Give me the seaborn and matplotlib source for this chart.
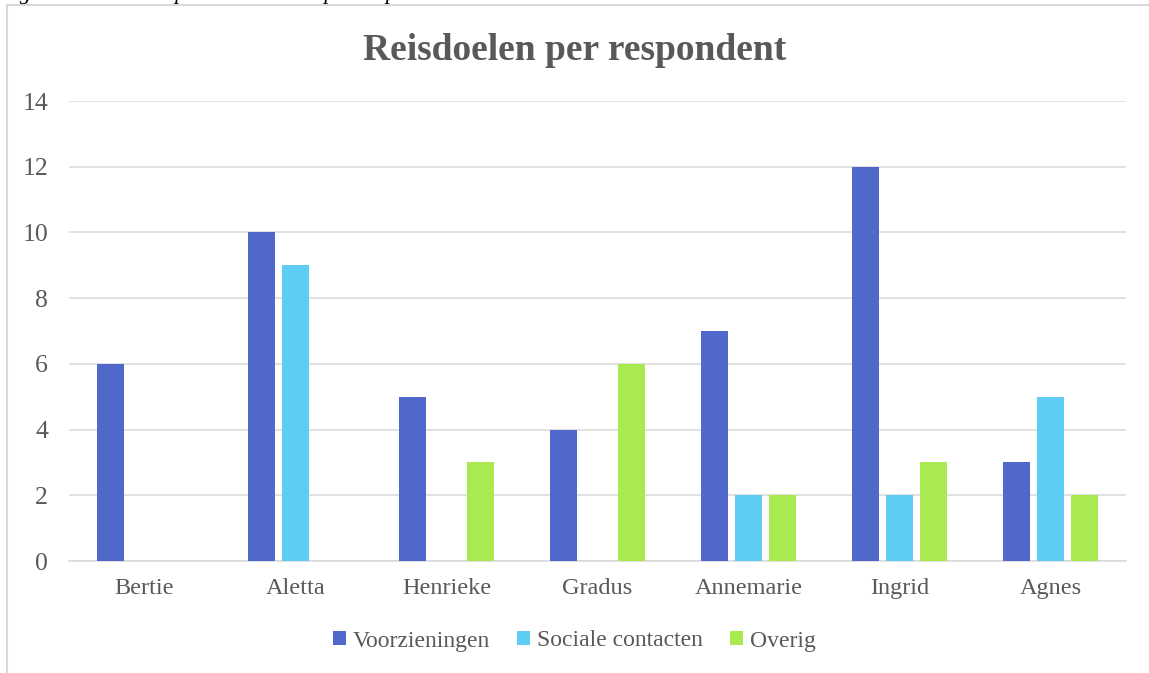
import matplotlib
matplotlib.use("Agg")
import matplotlib.pyplot as plt
import seaborn as sns
import pandas as pd
from matplotlib.patches import Rectangle

respondents = ["Bertie", "Aletta", "Henrieke", "Gradus", "Annemarie", "Ingrid", "Agnes"]
series_names = ["Voorzieningen", "Sociale contacten", "Overig"]
voorzieningen = [6, 10, 5, 4, 7, 12, 3]
sociale_contacten = [0, 9, 0, 0, 2, 2, 5]
overig = [0, 0, 3, 6, 2, 3, 2]
y_ticks = [0, 2, 4, 6, 8, 10, 12, 14]
title = "Reisdoelen per respondent"
caption = "Figuur 4. Aantal trips en reisdoelen per respondent"

colors = ["#4F68C9", "#5DCDF3", "#A8EA50"]

rows = []
for name, vals in zip(series_names, [voorzieningen, sociale_contacten, overig]):
    for r, v in zip(respondents, vals):
        rows.append({"Respondent": r, "Reisdoel": name, "Aantal": v})
df = pd.DataFrame(rows)

sns.set_theme(style="white")
plt.rcParams["font.family"] = ["Liberation Serif", "DejaVu Serif"]

fig = plt.figure(figsize=(11.49, 6.73), dpi=100)
ax = fig.add_axes([69 / 1149, 1 - 561 / 673, (1126 - 69) / 1149, (561 - 101) / 673])

sns.barplot(data=df, x="Respondent", y="Aantal", hue="Reisdoel",
            order=respondents, hue_order=series_names, palette=colors,
            width=0.68, gap=0.2, saturation=1, ax=ax, legend=True, zorder=3,
            edgecolor="none")

ax.set_ylim(0, 14)
ax.set_yticks(y_ticks)
ax.set_xlim(-0.5, len(respondents) - 0.5)
ax.yaxis.grid(True, color="#D9D9D9", linewidth=1.1, zorder=0)
ax.set_axisbelow(True)
for s in ["top", "right", "left"]:
    ax.spines[s].set_visible(False)
ax.spines["bottom"].set_color("#D9D9D9")
ax.spines["bottom"].set_linewidth(1.1)
ax.set_xlabel("")
ax.set_ylabel("")
ax.tick_params(axis="y", length=0, pad=15, labelsize=18.5, labelcolor="#595959")
ax.tick_params(axis="x", length=0, pad=12, labelsize=17.5, labelcolor="#595959")

handles, labels = ax.get_legend_handles_labels()
ax.legend_.remove()
fig.legend(handles, labels, loc="center", bbox_to_anchor=(0.5, 1 - 641 / 673),
           ncol=3, frameon=False, fontsize=17, labelcolor="#595959",
           handlelength=0.55, handleheight=0.55, handletextpad=0.3,
           columnspacing=1.15)

fig.text(0.5, 1 - 50 / 673, title, ha="center", va="center", fontsize=27,
         fontweight="bold", color="#595959")

fig.add_artist(Rectangle((7 / 1149, -0.05), 1.2, 1 - 5 / 673 + 0.05,
                         transform=fig.transFigure, fill=False,
                         edgecolor="#D9D9D9", linewidth=1.5))

fig.text(0.0, 1 + 1 / 673, caption, ha="left", va="baseline", fontsize=16,
         style="italic", color="black")

fig.savefig("out.png", dpi=100)
